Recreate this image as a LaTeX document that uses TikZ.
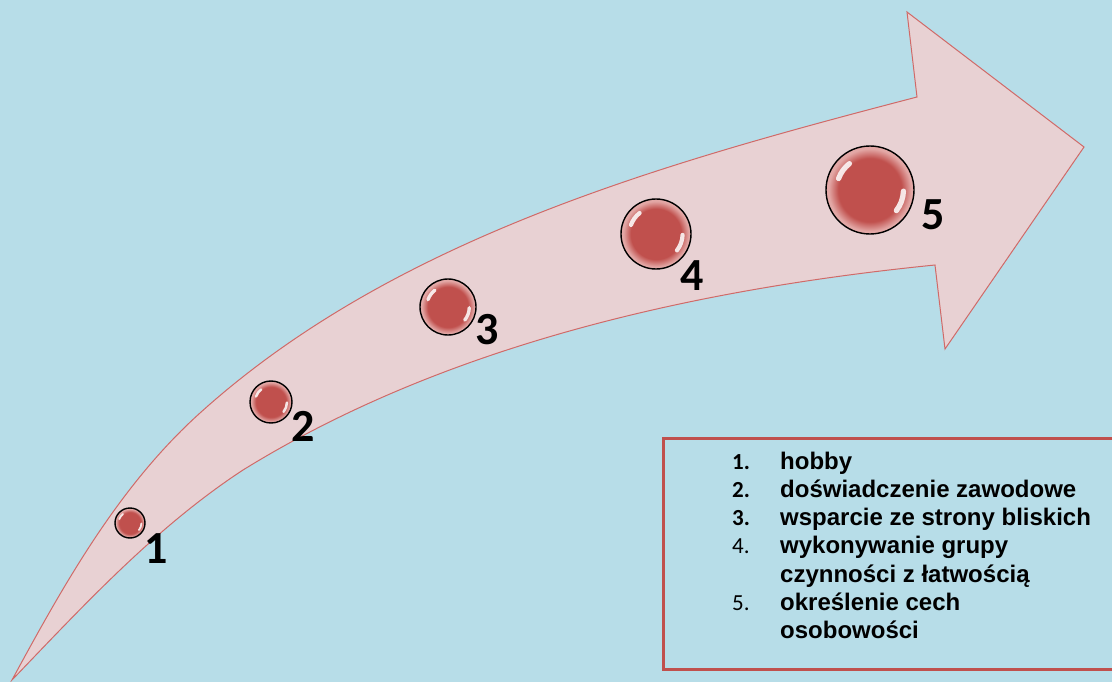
\documentclass[tikz,border=0pt]{standalone}
\usepackage{fontspec}
\setmainfont{Liberation Sans}
\newfontfamily\carlito{Carlito}
\definecolor{bgblue}{HTML}{B7DDE8}
\definecolor{arrowfill}{HTML}{E8D1D3}
\definecolor{arrowline}{HTML}{D06A68}
\definecolor{frame}{HTML}{C0504D}
\definecolor{ballred}{HTML}{C0504D}
\definecolor{ballrim}{HTML}{E3A8A6}
\pgfdeclareradialshading{ballshade}{\pgfpoint{0bp}{0bp}}{color(0bp)=(ballred); color(18bp)=(ballred); color(23.5bp)=(ballrim); color(25bp)=(ballrim); color(50bp)=(ballrim)}
\tikzset{
  arrowbody/.style={fill=arrowfill, draw=arrowline, line width=1pt, line join=miter},
  ring/.style={circle, draw=black, line width=1.4pt, inner sep=0pt},
  shine/.style={draw=white, line cap=round, opacity=0.85},
  numlab/.style={font=\carlito\bfseries\fontsize{46}{50}\selectfont, inner sep=0pt},
  legframe/.style={draw=frame, line width=2.6pt, inner sep=0pt},
  legnum/.style={anchor=base west, inner sep=0pt, font=\carlito\fontsize{23}{27}\selectfont},
  legnumb/.style={legnum, font=\carlito\bfseries\fontsize{23}{27}\selectfont},
  legtext/.style={anchor=base west, inner sep=0pt, font=\bfseries\fontsize{24}{28}\selectfont}
}
\newcommand{\mybubble}[4]{%
  \shade[shading=ballshade] (#2,#3) circle[radius=#4];
  \draw[shine, line width={0.12*#4}] (#2,#3) ++(200:{0.76*#4}) arc[start angle=200, end angle=232, radius={0.76*#4}];
  \draw[shine, line width={0.12*#4}] (#2,#3) ++(2:{0.76*#4}) arc[start angle=2, end angle=38, radius={0.76*#4}];
  \node[ring, minimum size={2*#4*1pt}] (#1) at (#2,#3) {};
}
\begin{document}
\begin{tikzpicture}[x=1pt,y=-1pt]
\useasboundingbox (0,0) rectangle (1112,682);
\clip (0,0) rectangle (1112,682);
\fill[bgblue] (0,0) rectangle (1112,682);
% arrow
\coordinate (tail) at (12,680);
\coordinate (umid) at (200,413);
\coordinate (hu) at (917,97);
\coordinate (hut) at (907,12);
\coordinate (tip) at (1084,147);
\coordinate (hlb) at (945,349);
\coordinate (hl) at (935,265);
\coordinate (lmid) at (243,470);
\path[arrowbody] (tail) .. controls (64,584) and (119,486) .. (umid)
  .. controls (394,238) and (664,163) .. (hu)
  -- (hut) -- (tip) -- (hlb) -- (hl)
  .. controls (696,289) and (447,344) .. (lmid)
  .. controls (156,527) and (84,605) .. (tail) -- cycle;
% bubbles
\mybubble{b1}{130}{523}{15}
\mybubble{b2}{271}{402}{21}
\mybubble{b3}{448}{307}{28}
\mybubble{b4}{656}{234}{35}
\mybubble{b5}{870}{190}{44}
\node[numlab] (n1) at (156,549) {1};
\node[numlab] (n2) at (303,426) {2};
\node[numlab] (n3) at (487,330) {3};
\node[numlab] (n4) at (692,276) {4};
\node[numlab] (n5) at (933,215) {5};
% legend
\node[legframe, anchor=north west, minimum width=480pt, minimum height=231pt] (legend) at (662,437) {};
\node[legnumb] (k1) at (732,469) {1.};
\node[legtext] (t1) at (780,469) {hobby};
\node[legnumb] (k2) at (732,497.3) {2.};
\node[legtext] (t2) at (780,497.3) {doświadczenie zawodowe};
\node[legnumb] (k3) at (732,525.6) {3.};
\node[legtext] (t3) at (780,525.6) {wsparcie ze strony bliskich};
\node[legnum] (k4) at (732,553.9) {4.};
\node[legtext] (t4) at (780,553.9) {wykonywanie grupy};
\node[legtext] (t4b) at (780,582.2) {czynności z łatwością};
\node[legnum] (k5) at (732,610.5) {5.};
\node[legtext] (t5) at (780,610.5) {określenie cech};
\node[legtext] (t5b) at (780,638.8) {osobowości};
\end{tikzpicture}
\end{document}
